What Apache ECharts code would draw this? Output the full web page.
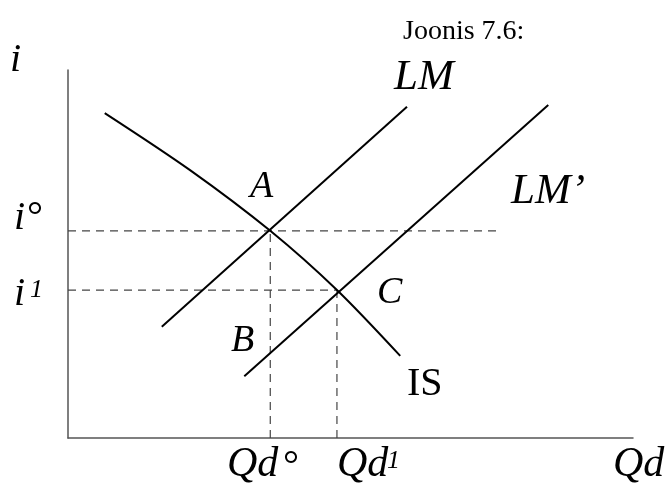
<!DOCTYPE html>
<html>
<head>
<meta charset="utf-8">
<script src="https://cdn.jsdelivr.net/npm/echarts@6/dist/echarts.min.js"></script>
<style>html,body{margin:0;padding:0;background:#fff}#c{width:666px;height:492px}</style>
</head>
<body>
<div id="c"></div>
<script>
// Curves (arbitrary units, 0..10 on both axes)
const isCurve = [[0.65, 8.83], [2.16, 7.28], [3.58, 5.63], [4.76, 4.02], [5.88, 2.23]];
const lmCurve = [[1.66, 3.02], [6.0, 9.0]];
const lmPrimeCurve = [[3.12, 1.68], [8.5, 9.05]];
const pointA = [3.58, 5.63];
const pointC = [4.76, 4.02];
const iZeroGuideEnd = 7.65;

const chart = echarts.init(document.getElementById('c'), null, {renderer: 'canvas'});
const serif = "'Liberation Serif','Times New Roman',serif";
const black = '#000';
const dashStyle = {color: '#444', width: 1.2, type: [8, 6]};

function line(data, style, smooth) {
  return {type: 'line', data: data, symbol: 'none', silent: true, smooth: smooth || false,
    lineStyle: style, z: style.z || 2};
}

function txt(t, x, y, size, italic, align) {
  return {type: 'text', x: x, y: y, silent: true,
    style: {text: t, font: (italic ? 'italic ' : '') + size + 'px ' + serif, fill: black,
      textAlign: align || 'left', textVerticalAlign: 'middle'}};
}

chart.setOption({
  animation: false,
  grid: {left: 68, right: 33, top: 70, bottom: 54},
  xAxis: {type: 'value', min: 0, max: 10, axisLine: {show: true, lineStyle: {color: '#555', width: 1.5}},
    axisTick: {show: false}, axisLabel: {show: false}, splitLine: {show: false}},
  yAxis: {type: 'value', min: 0, max: 10, axisLine: {show: true, lineStyle: {color: '#555', width: 1.5}},
    axisTick: {show: false}, axisLabel: {show: false}, splitLine: {show: false}},
  series: [
    line([[0, pointA[1]], [iZeroGuideEnd, pointA[1]]], dashStyle),
    line([[0, pointC[1]], [pointC[0], pointC[1]]], dashStyle),
    line([[pointA[0], 0], [pointA[0], pointA[1]]], dashStyle),
    line([[pointC[0], 0], [pointC[0], pointC[1]]], dashStyle),
    line(isCurve, {color: black, width: 2, z: 3}, 0.3),
    line(lmCurve, {color: black, width: 2, z: 3}),
    line(lmPrimeCurve, {color: black, width: 2, z: 3})
  ],
  graphic: [
    txt('Joonis 7.6:', 403, 32, 28, false),
    txt('i', 10, 60, 40, true),
    txt('i', 14, 218, 40, true),
    txt('°', 27, 218, 40, false),
    txt('i', 14, 294, 40, true),
    txt('1', 30, 290, 26, true),
    txt('LM', 394, 78, 43, true),
    txt('LM’', 511, 192, 43, true),
    txt('A', 250, 187, 38, true),
    txt('B', 231, 341, 38, true),
    txt('C', 377, 293, 38, true),
    txt('IS', 407, 384, 40, false),
    txt('Qd', 227, 465, 42, true),
    txt('°', 283, 467, 40, false),
    txt('Qd', 337, 465, 42, true),
    txt('1', 387, 461, 26, true),
    txt('Qd', 613, 465, 42, true)
  ]
});
</script>
</body>
</html>
